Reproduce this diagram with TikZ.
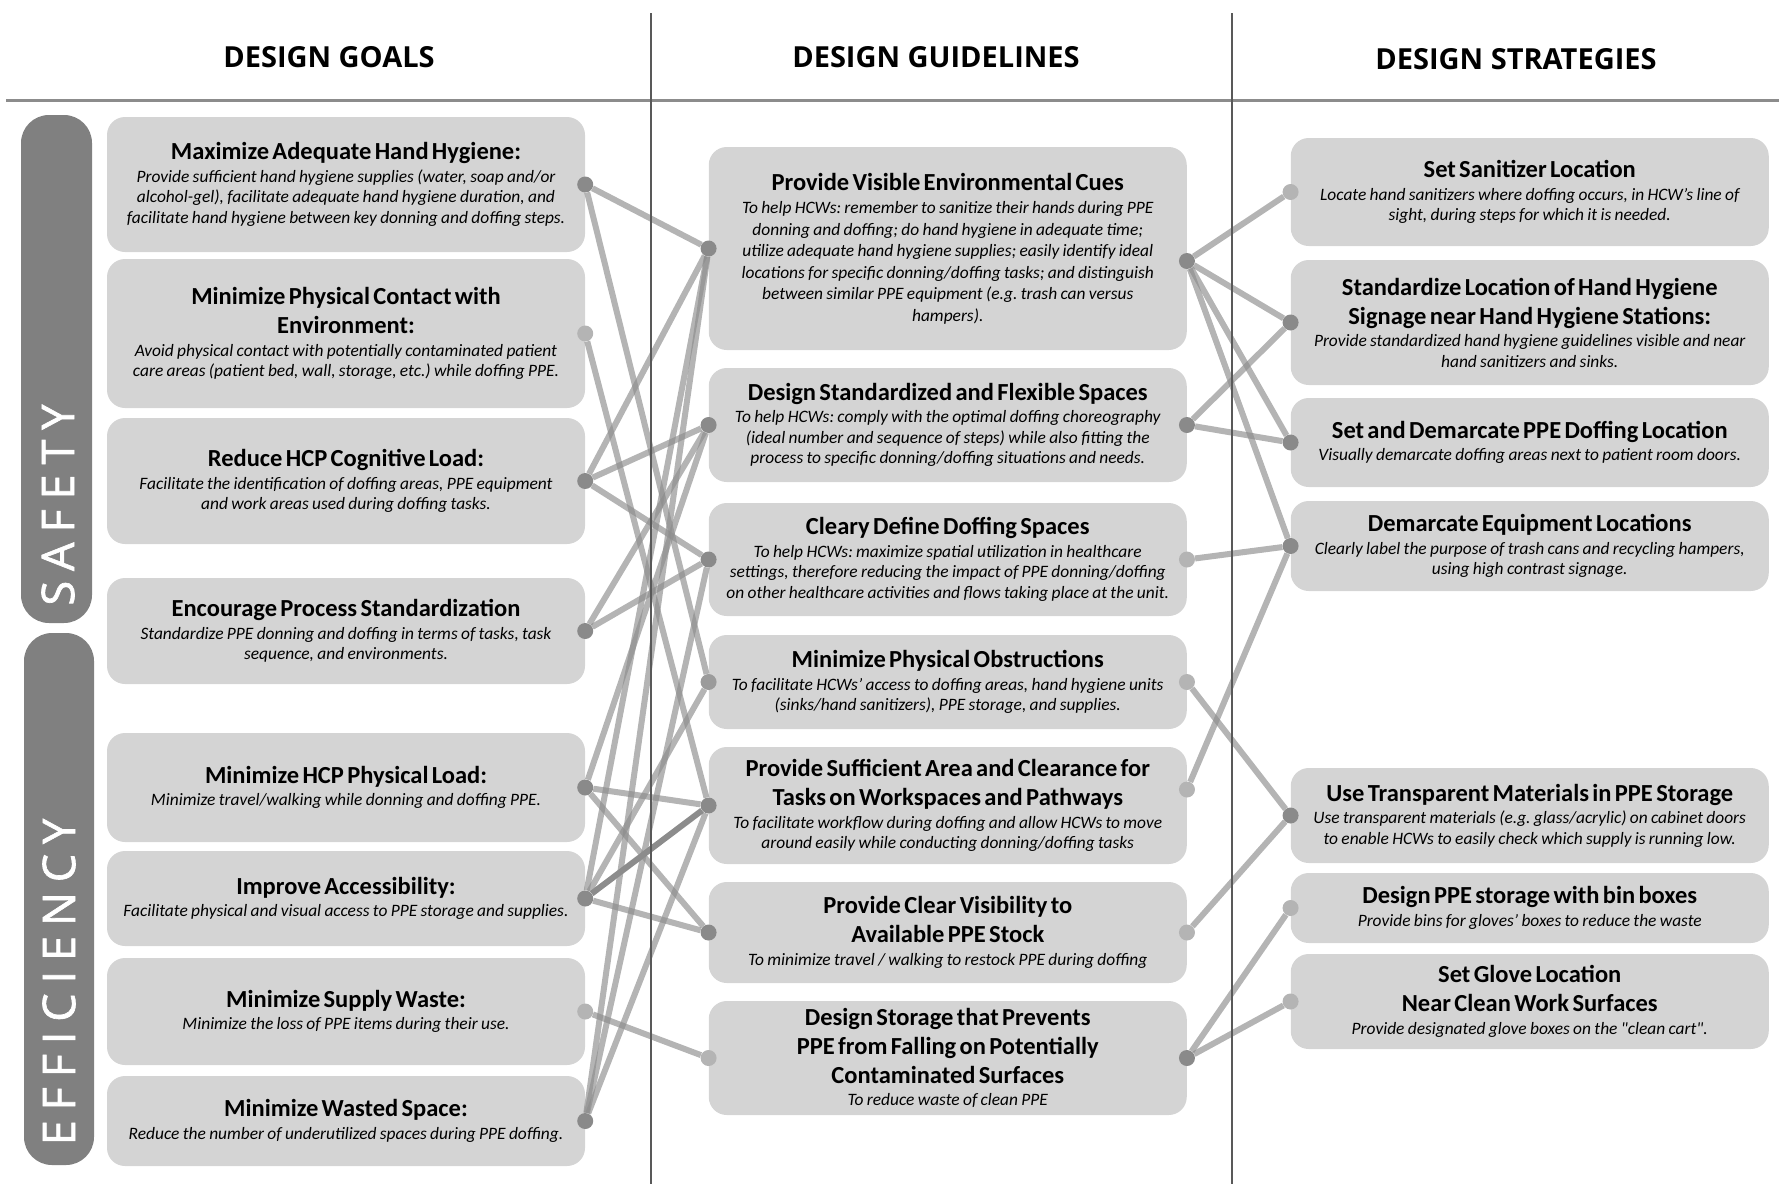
\documentclass[tikz,border=0pt]{standalone}
\usepackage{fontspec}
\setmainfont{Carlito}
\newfontfamily\carl{Carlito}
\newfontfamily\headfont{Open Sans}
\newfontfamily\barfont[LetterSpace=22,FakeBold=1.5]{Open Sans}
\definecolor{boxgray}{RGB}{212,212,212}
\definecolor{bargray}{RGB}{128,128,128}
\definecolor{dotdark}{RGB}{138,138,138}
\definecolor{dotmid}{RGB}{155,155,155}
\definecolor{dotlight}{RGB}{180,180,180}
\definecolor{linkgray}{RGB}{140,140,140}
\pgfdeclarelayer{boxes}
\pgfdeclarelayer{links}
\pgfsetlayers{boxes,links,main}
\newcommand\ttl{\carl\bfseries\fontsize{24.5}{29}\selectfont}
\newcommand\bdy{\carl\itshape\fontsize{17.4}{20.5}\selectfont}
\newcommand\bdyw{\carl\itshape\fontsize{17.4}{21.5}\selectfont}
\frenchspacing
\begin{document}
\begin{tikzpicture}[x=1pt,y=-1pt,
  box/.style={fill=boxgray, rounded corners=18pt, minimum width=478pt, text width=478pt, align=center, inner sep=0pt},
  bar/.style={fill=bargray, rounded corners=28pt, inner sep=0pt},
  bartext/.style={text=white, font=\barfont\fontsize{45}{45}\selectfont, inner sep=0pt},
  head/.style={font=\headfont\bfseries\fontsize{29}{29}\selectfont, inner sep=0pt},
  dotd/.style={circle, fill=dotdark, minimum size=16pt, inner sep=0pt},
  dotm/.style={circle, fill=dotmid, minimum size=16pt, inner sep=0pt},
  dotl/.style={circle, fill=dotlight, minimum size=16pt, inner sep=0pt},
  link/.style={draw=linkgray, draw opacity=0.65, line width=6pt},
  darklink/.style={draw=linkgray, line width=6pt},
  rule/.style={draw=black!65, line width=1.5pt}
]
\useasboundingbox (0,0) rectangle (1779,1184);
% headers and rules
\draw[draw=black!45, line width=3pt] (6,100) -- (1779,100);
\draw[rule] (651,13) -- (651,1184);
\draw[rule] (1232,13) -- (1232,1184);
\node[head] (hgoals) at (329,57) {DESIGN GOALS};
\node[head] (hguide) at (936,57) {DESIGN GUIDELINES};
\node[head] (hstrat) at (1516,59) {DESIGN STRATEGIES};
% category bars
\node[bar, minimum width=71pt, minimum height=508pt] (safetybar) at (56.5,369) {};
\node[bartext, rotate=90] (safetytext) at (58,505) {SAFETY};
\node[bar, minimum width=70pt, minimum height=532pt] (effbar) at (59,899) {};
\node[bartext, rotate=90] (efftext) at (59,982) {EFFICIENCY};
\begin{pgfonlayer}{boxes}
% goals
\node[box, minimum height=135pt] (g1) at (346,184.5) {{\ttl Maximize Adequate Hand Hygiene:\par}\vspace{2pt}{\bdy Provide sufficient hand hygiene supplies (water, soap and/or\\alcohol-gel), facilitate adequate hand hygiene duration, and\\facilitate hand hygiene between key donning and doffing steps.\par}};
\node[box, minimum height=149pt] (g2) at (346,333.5) {{\ttl Minimize Physical Contact with\\Environment:\par}\vspace{2pt}{\bdy Avoid physical contact with potentially contaminated patient\\care areas (patient bed, wall, storage, etc.) while doffing PPE.\par}};
\node[box, minimum height=126pt] (g3) at (346,481) {{\ttl Reduce HCP Cognitive Load:\par}\vspace{2pt}{\bdy Facilitate the identification of doffing areas, PPE equipment\\and work areas used during doffing tasks.\par}};
\node[box, minimum height=106pt] (g4) at (346,631) {{\ttl Encourage Process Standardization\par}\vspace{2pt}{\bdy Standardize PPE donning and doffing in terms of tasks, task\\sequence, and environments.\par}};
\node[box, minimum height=109pt] (g5) at (346,787.5) {{\ttl Minimize HCP Physical Load:\par}\vspace{2pt}{\bdy Minimize travel/walking while donning and doffing PPE.\par}};
\node[box, minimum height=95pt] (g6) at (346,898.5) {{\ttl Improve Accessibility:\par}\vspace{2pt}{\bdy Facilitate physical and visual access to PPE storage and supplies.\par}};
\node[box, minimum height=107pt] (g7) at (346,1011.5) {{\ttl Minimize Supply Waste:\par}\vspace{2pt}{\bdy Minimize the loss of PPE items during their use.\par}};
\node[box, minimum height=90pt] (g8) at (346,1121) {{\ttl Minimize Wasted Space:\par}\vspace{2pt}{\bdy Reduce the number of underutilized spaces during PPE doffing.\par}};
% guidelines
\node[box, minimum height=203pt] (mA) at (947.75,248.5) {{\ttl Provide Visible Environmental Cues\par}\vspace{2pt}{\bdyw To help HCWs: remember to sanitize their hands during PPE\\donning and doffing; do hand hygiene in adequate time;\\utilize adequate hand hygiene supplies; easily identify ideal\\locations for specific donning/doffing tasks; and distinguish\\between similar PPE equipment (e.g. trash can versus\\hampers).\par}};
\node[box, minimum height=114pt] (mB) at (947.75,425) {{\ttl Design Standardized and Flexible Spaces\par}\vspace{2pt}{\bdy To help HCWs: comply with the optimal doffing choreography\\(ideal number and sequence of steps) while also fitting the\\process to specific donning/doffing situations and needs.\par}};
\node[box, minimum height=113pt] (mC) at (947.75,559.5) {{\ttl Cleary Define Doffing Spaces\par}\vspace{2pt}{\bdy To help HCWs: maximize spatial utilization in healthcare\\settings, therefore reducing the impact of PPE donning/doffing\\on other healthcare activities and flows taking place at the unit.\par}};
\node[box, minimum height=94pt] (mD) at (947.75,682) {{\ttl Minimize Physical Obstructions\par}\vspace{2pt}{\bdy To facilitate HCWs’ access to doffing areas, hand hygiene units\\(sinks/hand sanitizers), PPE storage, and supplies.\par}};
\node[box, minimum height=117pt] (mE) at (947.75,805.5) {{\ttl Provide Sufficient Area and Clearance for\\Tasks on Workspaces and Pathways\par}\vspace{2pt}{\bdy To facilitate workflow during doffing and allow HCWs to move\\around easily while conducting donning/doffing tasks\par}};
\node[box, minimum height=101pt] (mF) at (947.75,932.5) {{\ttl Provide Clear Visibility to\\Available PPE Stock\par}\vspace{2pt}{\bdy To minimize travel / walking to restock PPE during doffing\par}};
\node[box, minimum height=114pt] (mG) at (947.75,1058) {{\ttl Design Storage that Prevents\\PPE from Falling on Potentially\\Contaminated Surfaces\par}\vspace{2pt}{\bdy To reduce waste of clean PPE\par}};
% strategies
\node[box, minimum height=108pt] (s1) at (1529.75,192) {{\ttl Set Sanitizer Location\par}\vspace{2pt}{\bdy Locate hand sanitizers where doffing occurs, in HCW’s line of\\sight, during steps for which it is needed.\par}};
\node[box, minimum height=125pt] (s2) at (1529.75,322.5) {{\ttl Standardize Location of Hand Hygiene\\Signage near Hand Hygiene Stations:\par}\vspace{2pt}{\bdy Provide standardized hand hygiene guidelines visible and near\\hand sanitizers and sinks.\par}};
\node[box, minimum height=89pt] (s3) at (1529.75,442.5) {{\ttl Set and Demarcate PPE Doffing Location\par}\vspace{2pt}{\bdy Visually demarcate doffing areas next to patient room doors.\par}};
\node[box, minimum height=90pt] (s4) at (1529.75,546) {{\ttl Demarcate Equipment Locations\par}\vspace{2pt}{\bdy Clearly label the purpose of trash cans and recycling hampers,\\using high contrast signage.\par}};
\node[box, minimum height=95pt] (s5) at (1529.75,815.5) {{\ttl Use Transparent Materials in PPE Storage\par}\vspace{2pt}{\bdy Use transparent materials (e.g. glass/acrylic) on cabinet doors\\to enable HCWs to easily check which supply is running low.\par}};
\node[box, minimum height=70pt] (s6) at (1529.75,908) {{\ttl Design PPE storage with bin boxes\par}\vspace{2pt}{\bdy Provide bins for gloves’ boxes to reduce the waste\par}};
\node[box, minimum height=95pt] (s7) at (1529.75,1001.5) {{\ttl Set Glove Location\\Near Clean Work Surfaces\par}\vspace{2pt}{\bdy Provide designated glove boxes on the "clean cart".\par}};
\end{pgfonlayer}
% dots
\node[dotd] (g1d) at (g1.east) {};
\node[dotl] (g2d) at (g2.east) {};
\node[dotd] (g3d) at (g3.east) {};
\node[dotd] (g4d) at (g4.east) {};
\node[dotd] (g5d) at (g5.east) {};
\node[dotd] (g6d) at (g6.east) {};
\node[dotl] (g7d) at (g7.east) {};
\node[dotd] (g8d) at (g8.east) {};
\node[dotd] (mAl) at (mA.west) {};
\node[dotd] (mBl) at (mB.west) {};
\node[dotd] (mCl) at (mC.west) {};
\node[dotm] (mDl) at (mD.west) {};
\node[dotd] (mEl) at (mE.west) {};
\node[dotd] (mFl) at (mF.west) {};
\node[dotl] (mGl) at (mG.west) {};
\node[dotd] (mAr) at ([yshift=-12.5pt]mA.east) {};
\node[dotd] (mBr) at (mB.east) {};
\node[dotl] (mCr) at (mC.east) {};
\node[dotl] (mDr) at (mD.east) {};
\node[dotl] (mEr) at ([yshift=16pt]mE.east) {};
\node[dotl] (mFr) at (mF.east) {};
\node[dotd] (mGr) at (mG.east) {};
\node[dotl] (s1d) at (s1.west) {};
\node[dotd] (s2d) at (s2.west) {};
\node[dotd] (s3d) at (s3.west) {};
\node[dotd] (s4d) at (s4.west) {};
\node[dotd] (s5d) at (s5.west) {};
\node[dotl] (s6d) at (s6.west) {};
\node[dotl] (s7d) at (s7.west) {};
\begin{pgfonlayer}{links}
% goals -> guidelines
\draw[link] (g1d) -- (mAl);
\draw[link] (g1d) -- (mDl);
\draw[link] (g2d) -- (mEl);
\draw[link] (g3d) -- (mAl);
\draw[link] (g3d) -- (mBl);
\draw[link] (g3d) -- (mCl);
\draw[link] (g4d) -- (mBl);
\draw[link] (g4d) -- (mCl);
\draw[link] (g5d) -- (mBl);
\draw[link] (g5d) -- (mEl);
\draw[link] (g5d) -- (mFl);
\draw[link] (g6d) -- (mAl);
\draw[link] (g6d) -- (mDl);
\draw[darklink] (g6d) -- (mEl);
\draw[link] (g6d) -- (mFl);
\draw[link] (g7d) -- (mGl);
\draw[link] (g8d) -- (mAl);
\draw[link] (g8d) -- (mCl);
\draw[link] (g8d) -- (mEl);
% guidelines -> strategies
\draw[link] (mAr) -- (s1d);
\draw[link] (mAr) -- (s2d);
\draw[link] (mAr) -- (s3d);
\draw[link] (mAr) -- (s4d);
\draw[link] (mBr) -- (s2d);
\draw[link] (mBr) -- (s3d);
\draw[link] (mCr) -- (s4d);
\draw[link] (mDr) -- (s5d);
\draw[link] (mEr) -- (s4d);
\draw[link] (mFr) -- (s5d);
\draw[link] (mGr) -- (s6d);
\draw[link] (mGr) -- (s7d);
\end{pgfonlayer}
\end{tikzpicture}
\end{document}
